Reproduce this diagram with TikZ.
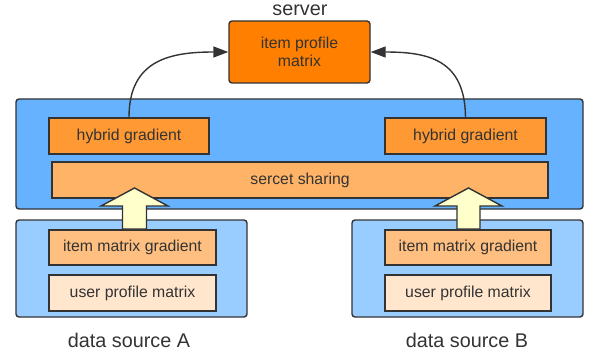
\documentclass[tikz,border=0pt]{standalone}
\usepackage{fontspec}
\setmainfont{Liberation Sans}
\usetikzlibrary{arrows.meta}
\definecolor{txt}{HTML}{333333}
\definecolor{srv}{HTML}{FF8000}
\definecolor{hyb}{HTML}{FF9933}
\definecolor{sss}{HTML}{FFB366}
\definecolor{bigblue}{HTML}{66B2FF}
\definecolor{dsblue}{HTML}{99CCFF}
\definecolor{img}{HTML}{FFBF80}
\definecolor{upm}{HTML}{FFE6CC}
\definecolor{barrow}{HTML}{FFFFCC}
\tikzset{
  box/.style={draw=txt, line width=1.4pt, text=txt, inner sep=0pt, align=center,
    font=\fontsize{15.8}{18}\selectfont},
  rbox/.style={box, rounded corners=3pt},
  lbl/.style={text=txt, font=\fontsize{19.8}{22}\selectfont, inner sep=0pt},
  curv/.style={draw=txt, line width=1.4pt, -{Triangle[length=15pt,width=11pt]}},
  blockarrow/.style={draw=txt, line width=1.4pt, fill=barrow, line join=miter},
}
\begin{document}
\begin{tikzpicture}[x=1pt,y=-1pt]
\useasboundingbox (0,0) rectangle (592,353);
% server
\node[lbl] (srvlbl) at (300,10) {server};
\node[rbox, fill=srv, minimum width=141pt, minimum height=62pt] (server) at (299.5,52) {item profile\\matrix};
% big blue box
\node[rbox, fill=bigblue, minimum width=567pt, minimum height=110pt] (big) at (299.5,154) {};
\node[box, fill=hyb, minimum width=160pt, minimum height=36pt] (hl) at (129,136) {hybrid gradient};
\node[box, fill=hyb, minimum width=161pt, minimum height=36pt] (hr) at (465.5,136) {hybrid gradient};
\node[box, fill=sss, minimum width=496pt, minimum height=36pt] (ss) at (300,180) {sercet sharing};
% data sources
\node[rbox, fill=dsblue, minimum width=231pt, minimum height=97pt] (da) at (131.5,268.5) {};
\node[rbox, fill=dsblue, minimum width=231pt, minimum height=97pt] (db) at (467.5,268.5) {};
\node[box, fill=img, minimum width=167pt, minimum height=35pt] (ia) at (132.5,247.5) {item matrix gradient};
\node[box, fill=upm, minimum width=167pt, minimum height=36pt] (ua) at (132.5,293) {user profile matrix};
\node[box, fill=img, minimum width=166pt, minimum height=35pt] (ib) at (468,247.5) {item matrix gradient};
\node[box, fill=upm, minimum width=166pt, minimum height=36pt] (ub) at (468,293) {user profile matrix};
\node[lbl] (la) at (129,340) {data source A};
\node[lbl] (lb) at (467,340) {data source B};
% block arrows
\coordinate (ta) at (134.5,188);
\coordinate (tb) at (468.5,188);
\draw[blockarrow] (ta) -- (168,206) -- (146.5,206) -- (146.5,229) -- (122.5,229) -- (122.5,206) -- (101,206) -- cycle;
\draw[blockarrow] (tb) -- (502,206) -- (480,206) -- (480,229) -- (457,229) -- (457,206) -- (435,206) -- cycle;
% curved arrows
\draw[curv] (hl.north) .. controls (129,60) and (170,52) .. (server.west);
\draw[curv] (hr.north) .. controls (465,60) and (429,52) .. (server.east);
\end{tikzpicture}
\end{document}
